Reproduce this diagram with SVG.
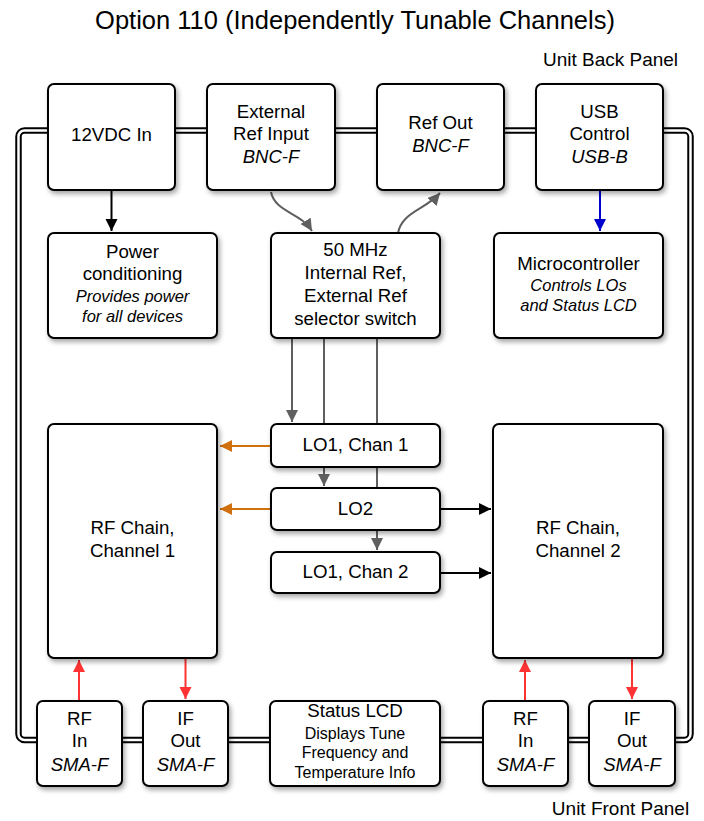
<svg xmlns="http://www.w3.org/2000/svg" width="704" height="821" viewBox="0 0 704 821">
<style>
text{font-family:"Liberation Sans",Arial,sans-serif;fill:#000;text-anchor:middle}
.t{font-size:18.7px}
.i{font-size:18.5px;font-style:italic}
.s{font-size:16.5px;font-style:italic}
.s2{font-size:16px}
.box{fill:#fff;stroke:#000;stroke-width:2;filter:url(#sh)}
.c{fill:none;stroke-width:2}
</style>
<defs>
<filter id="sh" x="-20%" y="-20%" width="140%" height="140%">
<feDropShadow dx="2" dy="3" stdDeviation="2.5" flood-color="#000" flood-opacity="0.35"/>
</filter>
<marker id="ak" markerUnits="userSpaceOnUse" markerWidth="14" markerHeight="14" refX="12" refY="6" orient="auto"><path d="M0,0 L12,6 L0,12 Z" fill="#000"/></marker>
<marker id="ag" markerUnits="userSpaceOnUse" markerWidth="14" markerHeight="14" refX="12" refY="6" orient="auto"><path d="M0,0 L12,6 L0,12 Z" fill="#5f5f5f"/></marker>
<marker id="ab" markerUnits="userSpaceOnUse" markerWidth="14" markerHeight="14" refX="12" refY="6" orient="auto"><path d="M0,0 L12,6 L0,12 Z" fill="#0000cc"/></marker>
<marker id="ao" markerUnits="userSpaceOnUse" markerWidth="14" markerHeight="14" refX="12" refY="6" orient="auto"><path d="M0,0 L12,6 L0,12 Z" fill="#d0700e"/></marker>
<marker id="ar" markerUnits="userSpaceOnUse" markerWidth="14" markerHeight="14" refX="12" refY="6" orient="auto"><path d="M0,0 L12,6 L0,12 Z" fill="#ff3333"/></marker>
</defs>
<rect width="704" height="821" fill="#fff"/>
<text x="355" y="29" style="font-size:25.5px">Option 110 (Independently Tunable Channels)</text>
<text x="610.5" y="66" style="font-size:19px">Unit Back Panel</text>
<text x="620.5" y="815" style="font-size:19px">Unit Front Panel</text>

<g id="frame">
<rect x="18.5" y="130.5" width="672" height="609.5" rx="6" fill="none" stroke="#000" stroke-width="6.5"/>
<rect x="18.5" y="130.5" width="672" height="609.5" rx="6" fill="none" stroke="#fff" stroke-width="2.5"/>
</g>

<g id="connectors">
<path class="c" d="M111.5,190 V231" stroke="#000" marker-end="url(#ak)"/>
<path class="c" d="M600,190 V231" stroke="#0000cc" marker-end="url(#ab)"/>
<path class="c" d="M271,192 C275,212 300,212 312,231" stroke="#5f5f5f" marker-end="url(#ag)"/>
<path class="c" d="M398,233 C402,212 425,210 440,193" stroke="#5f5f5f" marker-end="url(#ag)"/>
<path class="c" d="M292,338 V422" stroke="#5f5f5f" marker-end="url(#ag)"/>
<path class="c" d="M324,338 V486" stroke="#5f5f5f" marker-end="url(#ag)"/>
<path class="c" d="M377,338 V550" stroke="#5f5f5f" marker-end="url(#ag)"/>
<path class="c" d="M271,446 H220" stroke="#d0700e" marker-end="url(#ao)"/>
<path class="c" d="M271,509 H220" stroke="#d0700e" marker-end="url(#ao)"/>
<path class="c" d="M440,509 H491" stroke="#000" marker-end="url(#ak)"/>
<path class="c" d="M440,573 H491" stroke="#000" marker-end="url(#ak)"/>
<path class="c" d="M79,701 V660" stroke="#ff3333" marker-end="url(#ar)"/>
<path class="c" d="M185.5,658 V699" stroke="#ff3333" marker-end="url(#ar)"/>
<path class="c" d="M525,701 V660" stroke="#ff3333" marker-end="url(#ar)"/>
<path class="c" d="M632,658 V699" stroke="#ff3333" marker-end="url(#ar)"/>
</g>

<g id="n12vdc"><rect class="box" x="48" y="84" width="127" height="106" rx="6"/><text class="t" x="111.5" y="141">12VDC In</text></g>
<g id="extref"><rect class="box" x="207" y="84" width="128" height="106" rx="6"/><text class="t" x="271" y="118">External</text><text class="t" x="271" y="140">Ref Input</text><text class="i" x="271" y="163">BNC-F</text></g>
<g id="refout"><rect class="box" x="377" y="84" width="127" height="106" rx="6"/><text class="t" x="440.5" y="129">Ref Out</text><text class="i" x="440.5" y="152">BNC-F</text></g>
<g id="usb"><rect class="box" x="536" y="84" width="127" height="106" rx="6"/><text class="t" x="599.5" y="118">USB</text><text class="t" x="599.5" y="140">Control</text><text class="i" x="599.5" y="163">USB-B</text></g>

<g id="power"><rect class="box" x="48" y="233" width="169" height="105" rx="6"/><text class="t" x="132.5" y="258">Power</text><text class="t" x="132.5" y="280">conditioning</text><text class="s" x="132.5" y="302">Provides power</text><text class="s" x="132.5" y="322">for all devices</text></g>
<g id="ref50"><rect class="box" x="271" y="233" width="169" height="105" rx="6"/><text class="t" x="355.5" y="256">50 MHz</text><text class="t" x="355.5" y="279">Internal Ref,</text><text class="t" x="355.5" y="302">External Ref</text><text class="t" x="355.5" y="325">selector switch</text></g>
<g id="micro"><rect class="box" x="494" y="233" width="169" height="105" rx="6"/><text class="t" x="578.5" y="270">Microcontroller</text><text class="s" x="578.5" y="291">Controls LOs</text><text class="s" x="578.5" y="311">and Status LCD</text></g>

<g id="lo1c1"><rect class="box" x="271" y="424" width="169" height="43" rx="6"/><text class="t" x="355.5" y="451">LO1, Chan 1</text></g>
<g id="lo2"><rect class="box" x="271" y="488" width="169" height="42" rx="6"/><text class="t" x="355.5" y="515">LO2</text></g>
<g id="lo1c2"><rect class="box" x="271" y="552" width="169" height="41" rx="6"/><text class="t" x="355.5" y="578">LO1, Chan 2</text></g>

<g id="rf1"><rect class="box" x="48" y="424" width="169" height="234" rx="6"/><text class="t" x="132.5" y="534">RF Chain,</text><text class="t" x="132.5" y="557">Channel 1</text></g>
<g id="rf2"><rect class="box" x="493" y="424" width="170" height="234" rx="6"/><text class="t" x="578" y="534">RF Chain,</text><text class="t" x="578" y="557">Channel 2</text></g>

<g id="rfin1"><rect class="box" x="37" y="701" width="85" height="85" rx="6"/><text class="t" x="79.5" y="725">RF</text><text class="t" x="79.5" y="747">In</text><text class="i" x="79.5" y="771">SMA-F</text></g>
<g id="ifout1"><rect class="box" x="143" y="701" width="85" height="85" rx="6"/><text class="t" x="185.5" y="725">IF</text><text class="t" x="185.5" y="747">Out</text><text class="i" x="185.5" y="771">SMA-F</text></g>
<g id="lcd"><rect class="box" x="270" y="701" width="170" height="85" rx="6"/><text class="t" x="355" y="717">Status LCD</text><text class="s2" x="355" y="739">Displays Tune</text><text class="s2" x="355" y="758">Frequency and</text><text class="s2" x="355" y="778">Temperature Info</text></g>
<g id="rfin2"><rect class="box" x="483" y="701" width="85" height="85" rx="6"/><text class="t" x="525.5" y="725">RF</text><text class="t" x="525.5" y="747">In</text><text class="i" x="525.5" y="771">SMA-F</text></g>
<g id="ifout2"><rect class="box" x="589" y="701" width="86" height="85" rx="6"/><text class="t" x="632" y="725">IF</text><text class="t" x="632" y="747">Out</text><text class="i" x="632" y="771">SMA-F</text></g>
</svg>
